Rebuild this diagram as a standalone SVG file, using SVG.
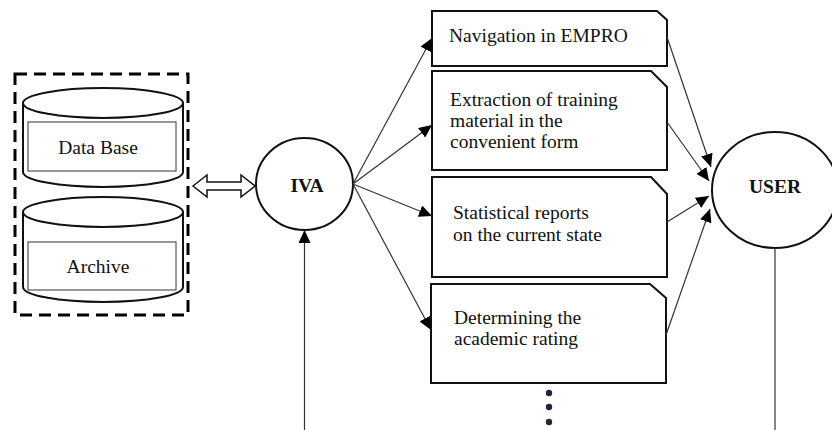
<svg xmlns="http://www.w3.org/2000/svg" width="832" height="430" viewBox="0 0 832 430">
  <defs>
    <style>
      .txt { font-family: "Liberation Serif", "Times New Roman", serif; font-size: 19.5px; fill: #111; }
      .bold { font-weight: bold; }
      .box { fill: #fff; stroke: #111; stroke-width: 2; }
      .node { fill: #fff; stroke: #111; stroke-width: 2; }
      .inner { fill: none; stroke: #555; stroke-width: 1.2; }
      .link { fill: none; stroke: #333; stroke-width: 1.2; marker-end: url(#head); }
      .plain { fill: none; stroke: #333; stroke-width: 1.2; }
    </style>
    <marker id="head" markerUnits="userSpaceOnUse" markerWidth="14" markerHeight="12" refX="13" refY="6" orient="auto">
      <path d="M0,0 L13,6 L0,12 Z" fill="#000"/>
    </marker>
  </defs>

  <!-- storage group with dashed frame -->
  <g id="storage">
    <rect x="15" y="74" width="173" height="241" fill="none" stroke="#000" stroke-width="3" stroke-dasharray="12 7"/>
  </g>

  <g id="database">
    <path class="node" d="M23,103 V172 A80,15 0 0 0 183,172 V103"/>
    <ellipse class="node" cx="103" cy="103" rx="80" ry="15"/>
    <rect class="inner" x="28" y="122" width="148" height="49"/>
    <text class="txt" x="98" y="154" text-anchor="middle">Data Base</text>
  </g>

  <g id="archive">
    <path class="node" d="M23,212 V287 A80,15 0 0 0 183,287 V212"/>
    <ellipse class="node" cx="103" cy="212" rx="80" ry="15"/>
    <rect class="inner" x="28" y="242" width="148" height="48"/>
    <text class="txt" x="98" y="273" text-anchor="middle">Archive</text>
  </g>

  <g id="iva">
    <ellipse class="node" cx="304.5" cy="184" rx="48.5" ry="46"/>
    <text class="txt bold" x="307" y="192" text-anchor="middle">IVA</text>
  </g>

  <g id="user">
    <ellipse class="node" cx="775" cy="190" rx="63" ry="58"/>
    <text class="txt bold" x="775" y="193" text-anchor="middle">USER</text>
  </g>

  <g id="navigation">
    <path class="box" d="M432,11 H657 L667,20 V66 H432 Z"/>
    <text class="txt" x="449" y="42">Navigation in EMPRO</text>
  </g>

  <g id="extraction">
    <path class="box" d="M432,71 H651 L667,87 V170 H432 Z"/>
    <text class="txt" x="450" y="106">Extraction of training</text>
    <text class="txt" x="450" y="127">material in the</text>
    <text class="txt" x="450" y="148">convenient form</text>
  </g>

  <g id="reports">
    <path class="box" d="M432,177 H651 L667,194 V277 H432 Z"/>
    <text class="txt" x="453" y="219">Statistical reports</text>
    <text class="txt" x="453" y="241">on the current state</text>
  </g>

  <g id="rating">
    <path class="box" d="M431,284 H650 L666,298 V383 H431 Z"/>
    <text class="txt" x="454" y="324">Determining the</text>
    <text class="txt" x="454" y="345">academic rating</text>
  </g>

  <g id="more">
    <circle cx="549" cy="393" r="3.2" fill="#1a2a3a"/>
    <circle cx="549" cy="407" r="3.2" fill="#1a2a3a"/>
    <circle cx="549" cy="422" r="3.2" fill="#1a2a3a"/>
  </g>

  <g id="connectors">
    <!-- two-way exchange between storage and IVA -->
    <polygon points="193,186 207,175 207,182 241,182 241,175 255,186 241,197 241,190 207,190 207,197" fill="#fff" stroke="#111" stroke-width="1.5"/>
    <!-- IVA to functions -->
    <line class="link" x1="353" y1="184" x2="432" y2="38"/>
    <line class="link" x1="353" y1="184" x2="432" y2="125"/>
    <line class="link" x1="353" y1="184" x2="432" y2="216"/>
    <line class="link" x1="353" y1="184" x2="431" y2="330"/>
    <!-- functions to USER -->
    <line class="link" x1="667" y1="37" x2="711" y2="167"/>
    <line class="link" x1="667" y1="122" x2="709" y2="181"/>
    <line class="link" x1="667" y1="222" x2="709" y2="196"/>
    <line class="link" x1="666" y1="335" x2="710" y2="209"/>
    <!-- input into IVA from below -->
    <line class="link" x1="304.5" y1="430" x2="304.5" y2="230"/>
    <!-- line from USER downward -->
    <line class="plain" x1="775" y1="248" x2="775" y2="430"/>
  </g>
</svg>
